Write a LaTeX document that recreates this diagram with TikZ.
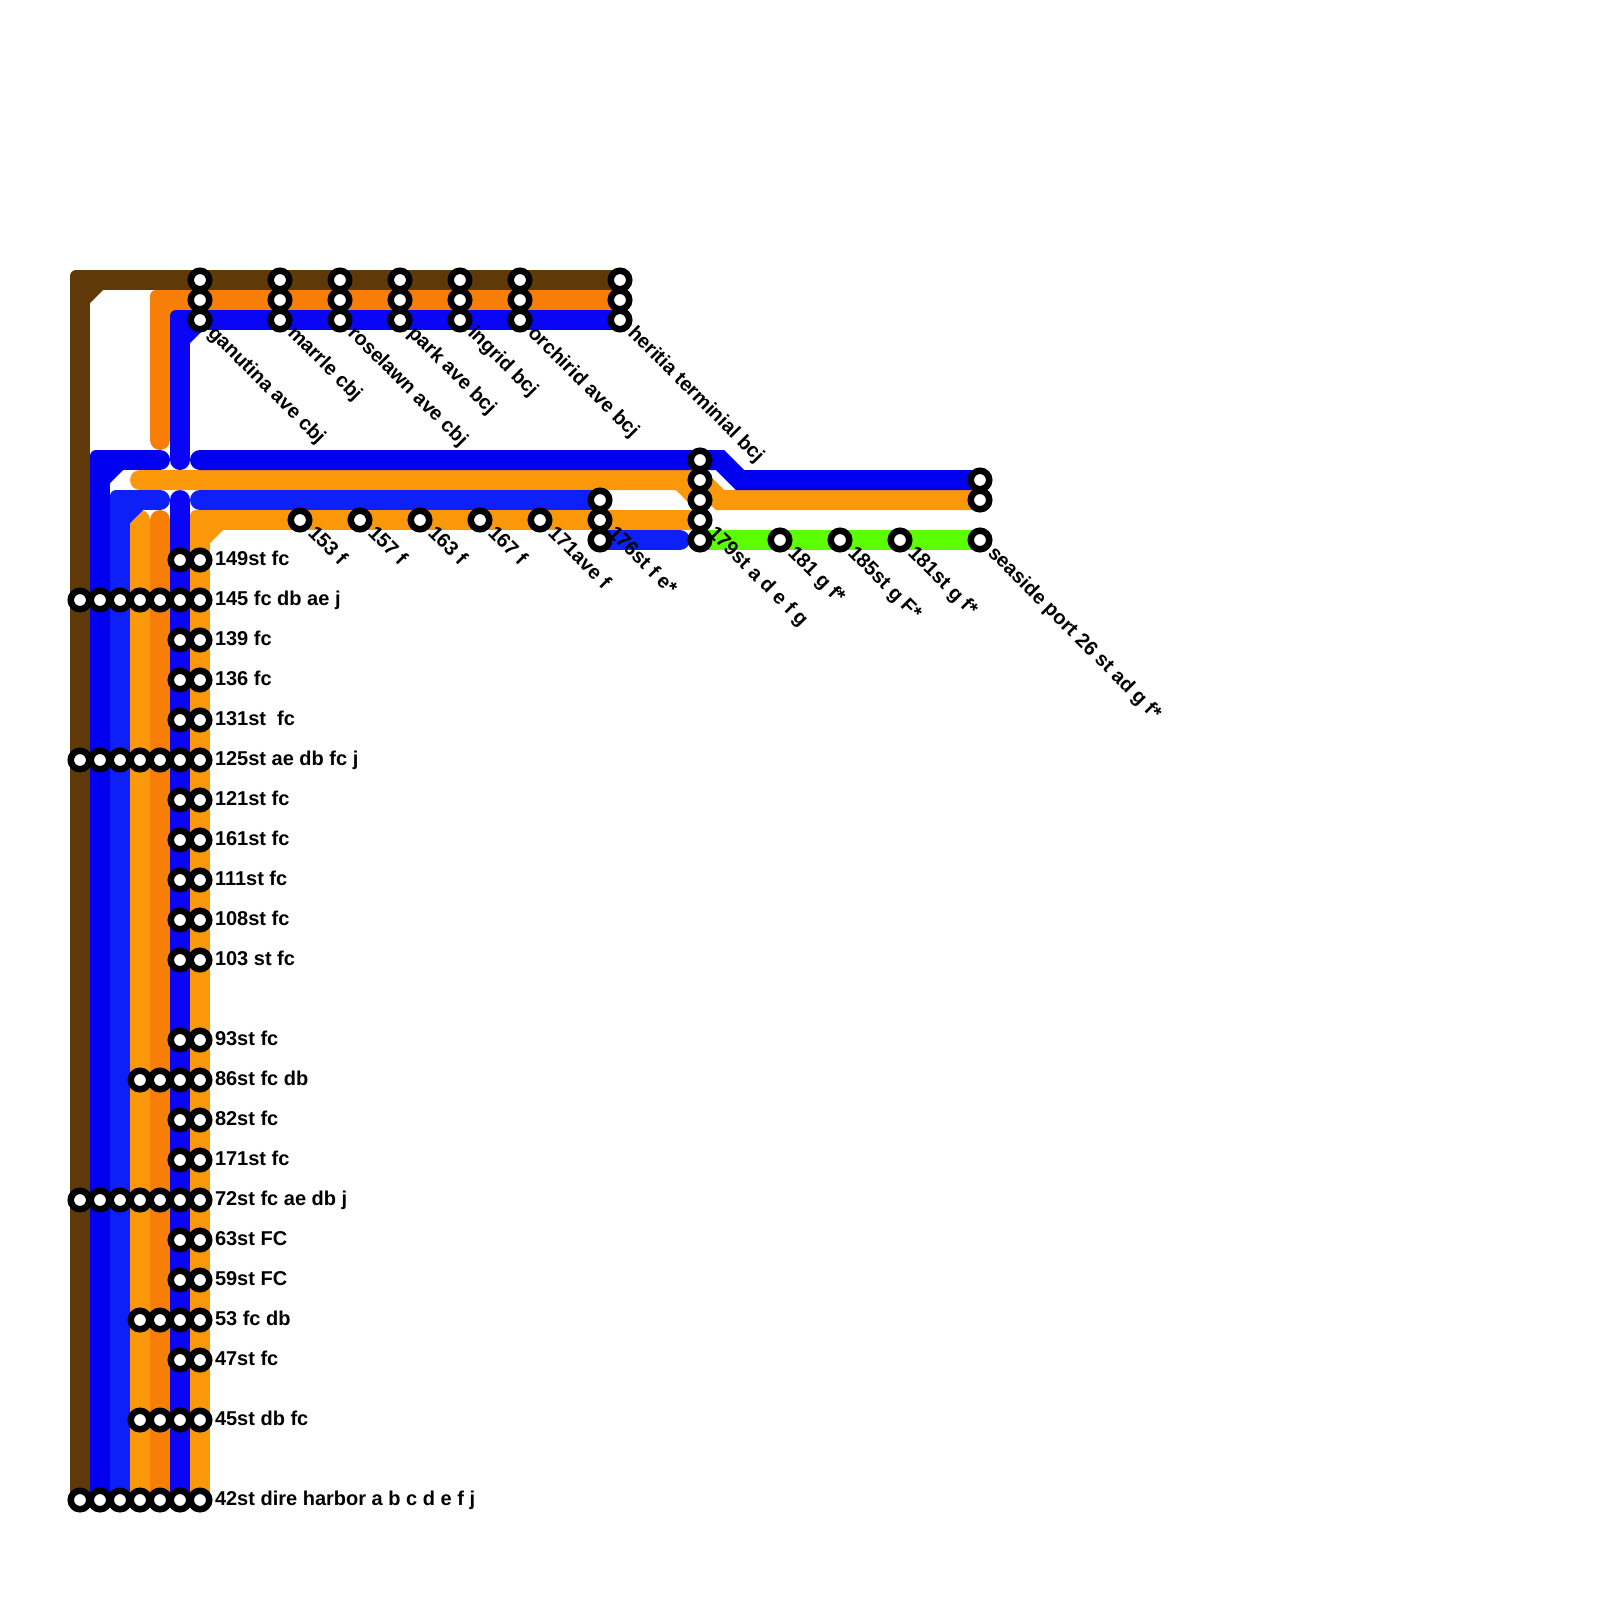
\documentclass[tikz,border=0pt]{standalone}
\usepackage{fontspec}
\setmainfont{Liberation Sans}
\usetikzlibrary{backgrounds}
\definecolor{cbrown}{HTML}{5F3A08}
\definecolor{cdorange}{HTML}{F77F07}
\definecolor{corange}{HTML}{FA980A}
\definecolor{cblue}{HTML}{0A06F5}
\definecolor{cpblue}{HTML}{0000F0}
\definecolor{cbright}{HTML}{0D20F8}
\definecolor{cgreen}{HTML}{5BFF00}
\tikzset{
  station/.style={circle,draw=black,fill=white,line width=6.5pt,minimum size=18.5pt,inner sep=0pt,outer sep=0pt},
  stlabel/.style={anchor=base west,inner sep=0pt,outer sep=0pt,font=\bfseries\fontsize{20pt}{22pt}\selectfont,text=black},
  diaglabel/.style={stlabel,rotate=-45},
  trackline/.style={line width=20pt,line cap=round,line join=round},
  bendline/.style={line width=20pt,line cap=round,line join=miter}
}
% corner piece: small outer rounding and inner chamfer of a line turning from up to right
\newcommand{\trackcorner}[3]{%
  \fill[#3,rounded corners=6pt] (#1-10,#2-10) rectangle (#1+10,#2+10);
  \fill[#3] (#1+9,#2+9) -- (#1+9,#2+23) -- (#1+10,#2+23) -- (#1+23,#2+10) -- (#1+23,#2+9) -- cycle;
}
\begin{document}
\begin{tikzpicture}[x=1pt,y=-1pt]
\useasboundingbox (0,0) rectangle (1600,1600);
% stations
\foreach \x in {80,100,120,140,160,180,200}
  \foreach \y in {600,760,1200,1500}
    \node[station] (st-\x-\y) at (\x,\y) {};
\foreach \x in {140,160,180,200}
  \foreach \y in {1080,1320,1420}
    \node[station] (st-\x-\y) at (\x,\y) {};
\foreach \x in {180,200}
  \foreach \y in {560,640,680,720,800,840,880,920,960,1040,1120,1160,1240,1280,1360}
    \node[station] (st-\x-\y) at (\x,\y) {};
\foreach \x in {200,280,340,400,460,520,620}
  \foreach \y in {280,300,320}
    \node[station] (st-\x-\y) at (\x,\y) {};
\foreach \x in {300,360,420,480,540}
  \node[station] (st-\x-520) at (\x,520) {};
\foreach \y in {500,520,540}
  \node[station] (st-600-\y) at (600,\y) {};
\foreach \y in {460,480,500,520,540}
  \node[station] (st-700-\y) at (700,\y) {};
\foreach \x in {780,840,900}
  \node[station] (st-\x-540) at (\x,540) {};
\foreach \y in {480,500,540}
  \node[station] (st-980-\y) at (980,\y) {};
% free ends and bends
\coordinate (k-brown) at (80,280);
\coordinate (k-dorange) at (160,300);
\coordinate (e-dorange) at (160,440);
\coordinate (k-blue) at (180,320);
\coordinate (e-blue) at (180,460);
\coordinate (k-pblue) at (100,460);
\coordinate (e-pblue) at (160,460);
\coordinate (s-pblue) at (200,460);
\coordinate (b1-pblue) at (720,460);
\coordinate (b2-pblue) at (740,480);
\coordinate (s-orange) at (140,480);
\coordinate (b-orange) at (720,500);
\coordinate (s2-orange) at (680,480);
\coordinate (k-bright) at (120,500);
\coordinate (e-bright) at (160,500);
\coordinate (s-bright) at (200,500);
\coordinate (e2-bright) at (680,540);
\coordinate (s-blue2) at (180,500);
\coordinate (e-ocol) at (140,520);
\coordinate (e-docol) at (160,520);
\coordinate (k-ocol) at (200,520);
% lines, under the stations
\begin{scope}[on background layer]
\fill[white] (0,0) rectangle (1600,1600);
% column lines
\draw[trackline,corange] (st-140-1500.center) -- (e-ocol);
\draw[trackline,cdorange] (st-160-1500.center) -- (e-docol);
\draw[trackline,corange] (st-200-1500.center) -- (k-ocol) -- (st-300-520.center) -- (st-700-520.center);
\trackcorner{200}{520}{corange}
\draw[trackline,cblue] (st-180-1500.center) -- (s-blue2);
\draw[trackline,cbrown] (st-80-1500.center) -- (k-brown) -- (st-620-280.center);
\trackcorner{80}{280}{cbrown}
\draw[trackline,cdorange] (e-dorange) -- (k-dorange) -- (st-620-300.center);
\trackcorner{160}{300}{cdorange}
\draw[trackline,cblue] (e-blue) -- (k-blue) -- (st-620-320.center);
\trackcorner{180}{320}{cblue}
% orange through the junction
\draw[bendline,corange] (s-orange) -- (st-700-480.center) -- (b-orange) -- (st-980-500.center);
\draw[trackline,corange] (s2-orange) -- (st-700-500.center);
\draw[bendline,cpblue] (s-pblue) -- (b1-pblue) -- (b2-pblue) -- (st-980-480.center);
\draw[trackline,cpblue] (st-100-1500.center) -- (k-pblue) -- (e-pblue);
\trackcorner{100}{460}{cpblue}
\draw[trackline,cbright] (st-120-1500.center) -- (k-bright) -- (e-bright);
\trackcorner{120}{500}{cbright}
\draw[trackline,cbright] (s-bright) -- (st-600-500.center);
\draw[trackline,cbright] (st-600-540.center) -- (e2-bright);
\draw[trackline,cgreen] (st-700-540.center) -- (st-980-540.center);
\end{scope}
% column labels
\foreach \y/\t in {560/149st fc,600/145 fc db ae j,640/139 fc,680/136 fc,720/131st\ \ fc,760/125st ae db fc j,800/121st fc,840/161st fc,880/111st fc,920/108st fc,960/103 st fc,1040/93st fc,1080/86st fc db,1120/82st fc,1160/171st fc,1200/72st fc ae db j,1240/63st FC,1280/59st FC,1320/53 fc db,1360/47st fc,1420/45st db fc,1500/42st dire harbor a b c d e f j}
  \node[stlabel] (lab-\y) at (215,\y+5.5) {\t};
% diagonal labels
\foreach \x/\yy/\t in {200/320/ganutina ave cbj,280/320/marrle cbj,340/320/roselawn ave cbj,400/320/park ave bcj,460/320/ingrid bcj,520/320/orchirid ave bcj,620/320/heritia terminial bcj,300/520/153 f,360/520/157 f,420/520/163 f,480/520/167 f,540/520/171ave f,600/520/176st f e*,700/520/179st a d e f g,780/540/181 g f*,840/540/185st g F*,900/540/181st g f*,980/540/seaside port 26 st ad g f*}
  \node[diaglabel] (dl-\x) at (\x+7,\yy+14) {\t};
\end{tikzpicture}
\end{document}
